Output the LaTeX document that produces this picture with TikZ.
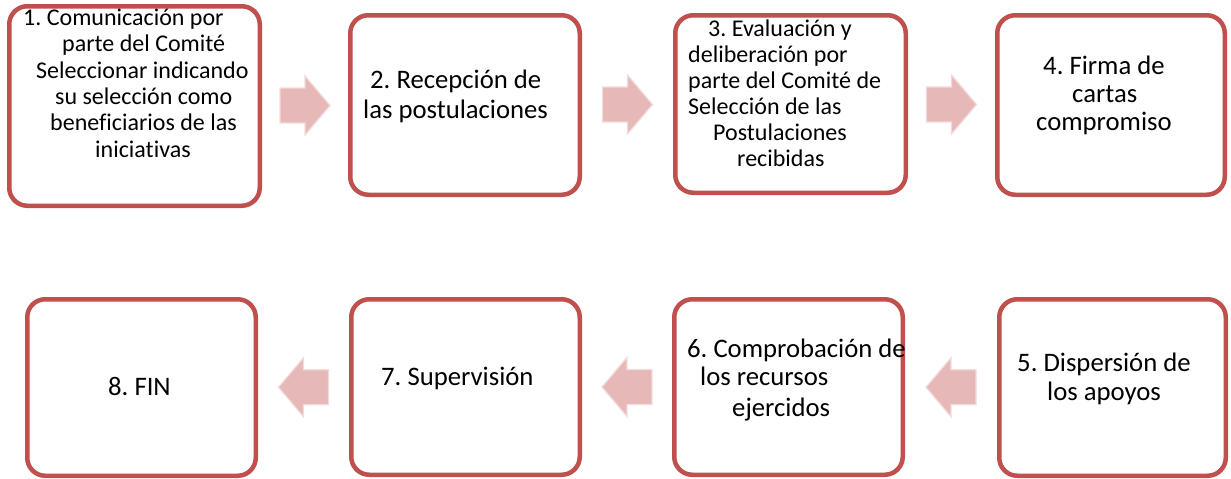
\documentclass[tikz,border=0pt]{standalone}
\usepackage{fontspec}
\setmainfont{Carlito}[Ligatures=NoCommon]
\usetikzlibrary{calc}
\definecolor{boxred}{HTML}{C0504D}
\definecolor{arrowpink}{HTML}{E6B9B8}
\definecolor{arrowedge}{HTML}{F2DCDB}
\frenchspacing
% block arrow centred on coordinate #1; #2 = +25 (right) or -25 (left)
\newcommand{\flowarrow}[2]{%
  \filldraw[arrowstyle] (#1) ++({-(#2)},-17.5) -- ++({#2},0) -- ++(0,-12)
    -- ++({#2},29.5) -- ++({-(#2)},29.5) -- ++(0,-12) -- ++({-(#2)},0) -- cycle;}
\begin{document}
\begin{tikzpicture}[x=1pt,y=-1pt,
  stepbox/.style={draw=boxred, line width=4.5pt, rounded corners=18pt, fill=white, inner sep=0pt},
  steptext/.style={anchor=north west, inner sep=0pt, align=left, text=black},
  smalltext/.style={steptext, font=\fontsize{24}{26.4}\selectfont},
  bigtext/.style={steptext, font=\fontsize{26.7}{28}\selectfont},
  arrowstyle/.style={fill=arrowpink, draw=arrowedge, line width=1.2pt, line join=miter}]
\useasboundingbox (0,0) rectangle (1231,479);
\fill[white] (0,0) rectangle (1231,479);
% boxes
\node[stepbox, minimum width=250.5pt, minimum height=199.5pt] (b1) at (134.5,106) {};
\node[stepbox, minimum width=229.5pt, minimum height=179.5pt] (b2) at (465,105) {};
\node[stepbox, minimum width=230.5pt, minimum height=177.5pt] (b3) at (790.5,104) {};
\node[stepbox, minimum width=227.5pt, minimum height=179.5pt] (b4) at (1111,105) {};
\node[stepbox, minimum width=226.5pt, minimum height=176.5pt] (b5) at (1112.5,387.5) {};
\node[stepbox, minimum width=228.5pt, minimum height=175.5pt] (b6) at (788.5,387) {};
\node[stepbox, minimum width=228.5pt, minimum height=175.5pt] (b7) at (465.5,387) {};
\node[stepbox, minimum width=228.5pt, minimum height=176.5pt] (b8) at (141.5,387.5) {};
% texts
\node[smalltext] (t1) at (23,3) {\rule{0pt}{22pt}1. Comunicación por\\
  \hspace*{39pt}parte del Comité\\
  \hspace*{13pt}Seleccionar indicando\\
  \hspace*{32pt}su selección como\\
  \hspace*{27pt}beneficiarios de las\\
  \hspace*{72pt}iniciativas};
\node[bigtext, font=\fontsize{26.7}{30}\selectfont] (t2) at (363,66.3) {\rule{0pt}{22pt}\hspace*{7pt}2. Recepción de\\
  las postulaciones};
\node[smalltext, font=\fontsize{24}{26}\selectfont] (t3) at (688,14.7) {\rule{0pt}{22pt}\hspace*{20pt}3. Evaluación y\\
  deliberación por\\
  parte del Comité de\\
  Selección de las\\
  \hspace*{25pt}Postulaciones\\
  \hspace*{49pt}recibidas};
\node[bigtext] (t4) at (1036,52) {\rule{0pt}{22pt}\hspace*{7pt}4. Firma de\\
  \hspace*{36pt}cartas\\
  compromiso};
\node[bigtext, font=\fontsize{26.7}{28.3}\selectfont] (t5) at (1017,349.7) {\rule{0pt}{22pt}5. Dispersión de\\
  \hspace*{30pt}los apoyos};
\node[bigtext] (t6) at (687,335.3) {\rule{0pt}{22pt}6. Comprobación de\\
  \hspace*{13pt}los recursos\\[3pt]
  \hspace*{45pt}ejercidos};
\node[bigtext] (t7) at (381,363.7) {\rule{0pt}{22pt}7. Supervisión};
\node[bigtext] (t8) at (108,373) {\rule{0pt}{22pt}8. FIN};
% arrows between boxes
\path (b1.east) -- (b2.west) coordinate[midway] (m1);
\path (b2.east) -- (b3.west) coordinate[midway] (m2);
\path (b3.east) -- (b4.west) coordinate[midway] (m3);
\path (b5.west) -- (b6.east) coordinate[midway] (m4);
\path (b6.west) -- (b7.east) coordinate[midway] (m5);
\path (b7.west) -- (b8.east) coordinate[midway] (m6);
\flowarrow{m1}{25}
\flowarrow{m2}{25}
\flowarrow{m3}{25}
\flowarrow{m4}{-25}
\flowarrow{m5}{-25}
\flowarrow{m6}{-25}
\end{tikzpicture}
\end{document}
